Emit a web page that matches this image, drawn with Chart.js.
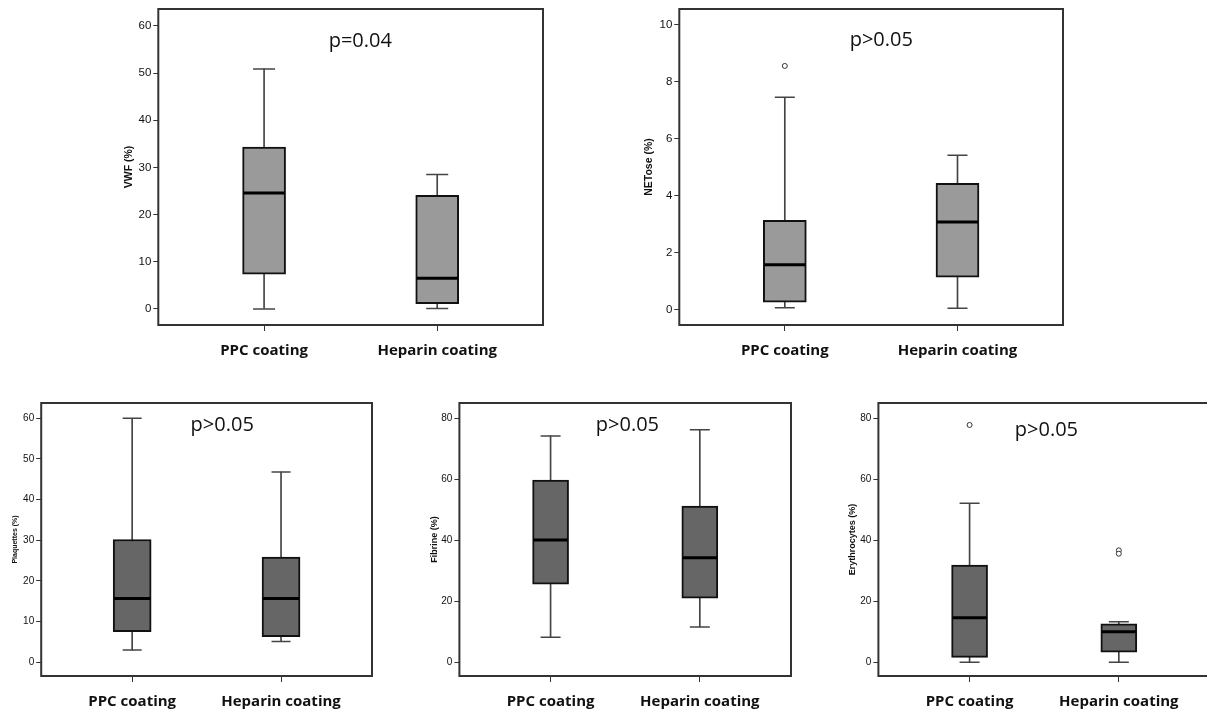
<!DOCTYPE html>
<html>
<head>
<meta charset="utf-8">
<script src="https://cdn.jsdelivr.net/npm/chart.js@4.4.1/dist/chart.umd.min.js"></script>
<style>
  html, body { margin: 0; padding: 0; background: #fff; overflow: hidden; width: 1207px; height: 714px; }
  .panel { position: absolute; }
</style>
</head>
<body>
<script>
const groups = ['PPC coating', 'Heparin coating'];

// box summaries per group: [min, q1, median, q3, max]
const vwfBox = [[0, 7.4, 24.6, 34.3, 50.9], [0.1, 1.1, 6.5, 24.1, 28.5]];
const vwfOutliers = [[], []];
const vwfTicks = [0, 10, 20, 30, 40, 50, 60];

const netoseBox = [[0.06, 0.25, 1.57, 3.13, 7.45], [0.04, 1.13, 3.07, 4.43, 5.41]];
const netoseOutliers = [[8.55], []];
const netoseTicks = [0, 2, 4, 6, 8, 10];

const plaqBox = [[3.0, 7.5, 15.7, 30.2, 60], [5.1, 6.3, 15.7, 25.9, 46.8]];
const plaqOutliers = [[], []];
const plaqTicks = [0, 10, 20, 30, 40, 50, 60];

const fibBox = [[8.2, 25.6, 40.1, 59.7, 74.2], [11.6, 21.0, 34.3, 51.2, 76.2]];
const fibOutliers = [[], []];
const fibTicks = [0, 20, 40, 60, 80];

const eryBox = [[0, 1.6, 14.6, 31.9, 52.1], [0, 3.3, 10.0, 12.6, 13.3]];
const eryOutliers = [[77.8], [36.7, 35.6]];
const eryTicks = [0, 20, 40, 60, 80];

// panel layout (frame = plot area in page pixels)
const panels = [
    {label: 'VWF (%)', box: vwfBox, out: vwfOutliers, ticks: vwfTicks, min: -3.4, max: 63.6,
     frame: {l: 158, t: 9, w: 385, h: 316}, titleX: 129, titleSize: 10.5, tickSize: 11.5,
     boxW: 43, capW: 22, fill: '#9a9a9a', p: 'p=0.04', px: 202, py: 32},
    {label: 'NETose (%)', box: netoseBox, out: netoseOutliers, ticks: netoseTicks, min: -0.55, max: 10.55,
     frame: {l: 679, t: 9, w: 384, h: 316}, titleX: 649, titleSize: 10.5, tickSize: 11.5,
     boxW: 43, capW: 20, fill: '#9a9a9a', p: 'p>0.05', px: 202, py: 31},
    {label: 'Plaquettes (%)', box: plaqBox, out: plaqOutliers, ticks: plaqTicks, min: -3.37, max: 63.76,
     frame: {l: 41, t: 403, w: 331, h: 273}, titleX: 15, titleSize: 7, tickSize: 10,
     boxW: 38, capW: 19, fill: '#666666', p: 'p>0.05', px: 181, py: 22},
    {label: 'Fibrine (%)', box: fibBox, out: fibOutliers, ticks: fibTicks, min: -4.49, max: 85.0,
     frame: {l: 459, t: 403, w: 332, h: 273}, titleX: 434, titleSize: 9, tickSize: 10,
     boxW: 36, capW: 20, fill: '#666666', p: 'p>0.05', px: 168, py: 22},
    {label: 'Erythrocytes (%)', box: eryBox, out: eryOutliers, ticks: eryTicks, min: -4.49, max: 85.0,
     frame: {l: 878, t: 403, w: 332, h: 273}, titleX: 852, titleSize: 9, tickSize: 10,
     boxW: 36, capW: 20, fill: '#666666', p: 'p>0.05', px: 168, py: 27}
];

const PAD_TOP = 5, PAD_RIGHT = 5, X_H = 45;

// draws the frame round the plot area and the p-value text
const framePlugin = {
    id: 'frame',
    afterDraw(chart, args, opts) {
        const a = chart.chartArea;
        const ctx = chart.ctx;
        ctx.save();
        ctx.strokeStyle = '#333';
        ctx.lineWidth = 2;
        ctx.strokeRect(a.left, a.top, a.right - a.left, a.bottom - a.top);
        ctx.fillStyle = '#111';
        ctx.font = '20px "Open Sans"';
        ctx.textAlign = 'center';
        ctx.textBaseline = 'middle';
        ctx.fillText(opts.text, a.left + opts.x, a.top + opts.y);
        ctx.restore();
    }
};

// keep the plot area fixed: no extra padding for overhanging labels
const noPad = (s) => {
    s.paddingLeft = 0; s.paddingRight = 0; s.paddingTop = 0; s.paddingBottom = 0;
};

const makeChart = (p) => {
    const yW = p.frame.l - p.titleX + 0.6 * p.titleSize;
    const width = p.frame.w + yW + PAD_RIGHT;
    const height = p.frame.h + PAD_TOP + X_H;

    const div = document.createElement('div');
    div.className = 'panel';
    div.style.left = (p.frame.l - yW) + 'px';
    div.style.top = (p.frame.t - PAD_TOP) + 'px';
    const canvas = document.createElement('canvas');
    canvas.width = width;
    canvas.height = height;
    canvas.style.width = width + 'px';
    canvas.style.height = height + 'px';
    div.appendChild(canvas);
    document.body.appendChild(div);

    const xs = groups.map((g, i) => i + 1);
    const outPts = [];
    p.out.forEach((arr, i) => arr.forEach(v => outPts.push({x: i + 1, y: v})));

    new Chart(canvas, {
        type: 'bar',
        data: {
            datasets: [
                {   // whisker line min..max, hidden behind the box
                    data: xs.map((x, i) => ({x: x, y: [p.box[i][0], p.box[i][4]]})),
                    backgroundColor: '#444', barThickness: 1, grouped: false, order: 4
                },
                {   // box q1..q3
                    data: xs.map((x, i) => ({x: x, y: [p.box[i][1], p.box[i][3]]})),
                    backgroundColor: p.fill, borderColor: '#111', borderWidth: 2,
                    borderSkipped: false, barThickness: p.boxW, grouped: false, order: 3
                },
                {   // whisker caps
                    type: 'scatter',
                    data: xs.flatMap((x, i) => [{x: x, y: p.box[i][0]}, {x: x, y: p.box[i][4]}]),
                    pointStyle: 'line', pointRadius: p.capW / 2, pointBorderWidth: 1.5,
                    pointBorderColor: '#444', order: 2
                },
                {   // medians
                    type: 'scatter',
                    data: xs.map((x, i) => ({x: x, y: p.box[i][2]})),
                    pointStyle: 'line', pointRadius: p.boxW / 2 - 1, pointBorderWidth: 3,
                    pointBorderColor: '#000', order: 1
                },
                {   // outliers
                    type: 'scatter',
                    data: outPts,
                    pointStyle: 'circle', pointRadius: 2.5, pointBorderWidth: 1,
                    pointBackgroundColor: '#fff', pointBorderColor: '#333', order: 0
                }
            ]
        },
        options: {
            responsive: false,
            animation: false,
            events: [],
            devicePixelRatio: 1,
            layout: {autoPadding: false, padding: {top: PAD_TOP, right: PAD_RIGHT, left: 0, bottom: 0}},
            plugins: {
                legend: {display: false},
                tooltip: {enabled: false},
                frame: {text: p.p, x: p.px, y: p.py}
            },
            scales: {
                x: {
                    type: 'linear', min: 0.389, max: 2.611, offset: false,
                    afterBuildTicks: s => { s.ticks = xs.map(v => ({value: v})); },
                    afterFit: s => { s.height = X_H; noPad(s); },
                    ticks: {
                        callback: v => groups[Math.round(v) - 1] || '',
                        font: {family: 'Open Sans', size: 15, weight: 'bold'},
                        color: '#111', padding: 11, maxRotation: 0, autoSkip: false
                    },
                    grid: {offset: false, drawOnChartArea: false, drawTicks: true, tickLength: 6, color: '#333'},
                    border: {display: false}
                },
                y: {
                    type: 'linear', min: p.min, max: p.max,
                    afterBuildTicks: s => { s.ticks = p.ticks.map(v => ({value: v})); },
                    afterFit: s => { s.width = yW; noPad(s); },
                    ticks: {font: {family: 'Liberation Sans', size: p.tickSize}, color: '#111', padding: 2},
                    grid: {drawOnChartArea: false, drawTicks: true, tickLength: 5, color: '#333'},
                    border: {display: false},
                    title: {
                        display: true, text: p.label, padding: 0, color: '#111',
                        font: {family: 'Liberation Sans', size: p.titleSize, weight: 'bold'}
                    }
                }
            }
        },
        plugins: [framePlugin]
    });
};

panels.forEach(makeChart);
</script>
</body>
</html>
